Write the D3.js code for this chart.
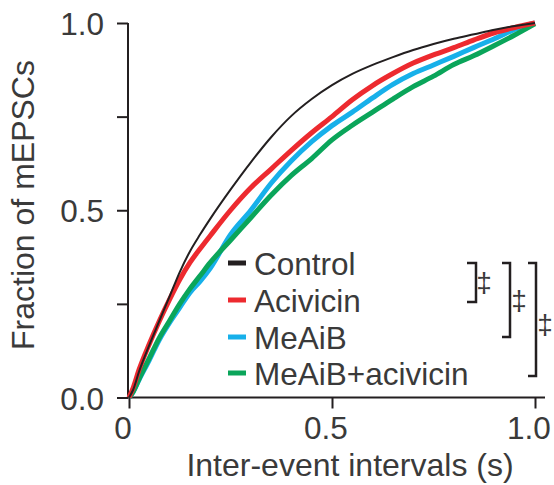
<!DOCTYPE html>
<html><head><meta charset="utf-8">
<script src="https://cdn.jsdelivr.net/npm/d3@7"></script>
<style>body{margin:0;background:#fff}svg{display:block}</style>
</head><body>
<script>
const xGrid = [0,0.01,0.025,0.05,0.075,0.1,0.125,0.15,0.175,0.2,0.25,0.3,0.35,0.4,0.45,0.5,0.55,0.6,0.65,0.7,0.75,0.8,0.85,0.9,0.95,1.0];
const control   = [0,0.02,0.07,0.14,0.205,0.27,0.335,0.39,0.435,0.477,0.555,0.628,0.695,0.752,0.797,0.834,0.864,0.888,0.909,0.928,0.944,0.958,0.970,0.982,0.992,1.0];
const acivicin  = [0,0.025,0.075,0.143,0.205,0.262,0.315,0.36,0.397,0.432,0.50,0.56,0.61,0.66,0.707,0.75,0.795,0.833,0.865,0.893,0.915,0.934,0.955,0.974,0.988,1.0];
const meaib     = [0,0.015,0.048,0.10,0.155,0.20,0.24,0.28,0.31,0.345,0.435,0.50,0.572,0.632,0.683,0.726,0.762,0.80,0.836,0.865,0.888,0.911,0.935,0.958,0.983,1.0];
const meaibAciv = [0,0.015,0.05,0.105,0.16,0.205,0.25,0.29,0.325,0.36,0.42,0.48,0.54,0.593,0.638,0.688,0.727,0.762,0.797,0.83,0.858,0.889,0.913,0.94,0.968,0.998];
const seriesNames = ["Control","Acivicin","MeAiB","MeAiB+acivicin"];
const seriesColors = ["#231f20","#ed2a2f","#17b0ea","#0aa55a"];
const seriesWidths = [2,5,5,5];
const xTicks = [0,0.5,1.0];
const xTickLabels = ["0","0.5","1.0"];
const yTicks = [0,0.25,0.5,0.75,1.0];
const yTickLabels = {"0":"0.0","0.5":"0.5","1":"1.0"};

const W=554,H=485;
const svg=d3.select("body").append("svg").attr("width",W).attr("height",H);
const x=d3.scaleLinear().domain([0,1]).range([129,535]);
const y=d3.scaleLinear().domain([0,1]).range([397.5,23]);
const font="'Liberation Sans', Arial, sans-serif";
const textCol="#3a3a3a", axCol="#231f20";

// axes
const yAxis=d3.axisLeft(y).tickValues(yTicks).tickSize(11).tickFormat("");
const gy=svg.append("g").attr("transform","translate(128,0)").call(yAxis);
gy.select(".domain").attr("d",`M0,${y(1)}H0V${y(0)}`);
gy.selectAll("path,line").attr("stroke",axCol).attr("stroke-width",2);
const xAxis=d3.axisBottom(x).tickValues(xTicks).tickSize(11).tickFormat("");
const gx=svg.append("g").attr("transform",`translate(0,${y(0)})`).call(xAxis);
gx.select(".domain").attr("d",`M127,0H545`);
gx.selectAll("path,line").attr("stroke",axCol).attr("stroke-width",2);

// tick labels
yTicks.forEach(t=>{ if(yTickLabels[String(t)]) svg.append("text").attr("x",104).attr("y",y(t)+12).attr("text-anchor","end")
  .attr("font-family",font).attr("font-size",31.5).attr("fill",textCol).text(yTickLabels[String(t)]);});
xTicks.forEach((t,i)=>svg.append("text").attr("x",x(t)-6).attr("y",439).attr("text-anchor","middle")
  .attr("font-family",font).attr("font-size",31.5).attr("fill",textCol).text(xTickLabels[i]));
svg.append("text").attr("x",350).attr("y",476).attr("text-anchor","middle").attr("font-family",font)
  .attr("font-size",32).attr("fill",textCol).text("Inter-event intervals (s)");
svg.append("text").attr("transform","translate(34,205) rotate(-90)").attr("text-anchor","middle").attr("font-family",font)
  .attr("font-size",32).attr("fill",textCol).text("Fraction of mEPSCs");

// lines
const allSeries=[control,acivicin,meaib,meaibAciv];
const line=d3.line().x((d,i)=>x(xGrid[i])).y(d=>y(d)).curve(d3.curveMonotoneX);
[2,3,1,0].forEach(k=>{
  svg.append("path").datum(allSeries[k]).attr("d",line).attr("fill","none")
    .attr("stroke",seriesColors[k]).attr("stroke-width",seriesWidths[k]).attr("stroke-linejoin","round");
});

// legend
const rowY=[263,300,337,373];
seriesNames.forEach((n,i)=>{
  svg.append("line").attr("x1",228).attr("x2",246).attr("y1",rowY[i]).attr("y2",rowY[i])
    .attr("stroke",seriesColors[i]).attr("stroke-width",5);
  svg.append("text").attr("x",254).attr("y",rowY[i]+11.5).attr("font-family",font).attr("font-size",31.5)
    .attr("fill",textCol).text(n);
});

// significance brackets
const brackets=[{x0:467,x1:476,y0:263,y1:302,sx:484,sy:282},{x0:502,x1:510,y0:263,y1:337,sx:519,sy:300},{x0:528,x1:536,y0:263,y1:376,sx:545,sy:324}];
brackets.forEach(b=>{
  svg.append("path").attr("d",`M${b.x0},${b.y0}H${b.x1}V${b.y1}H${b.x0}`).attr("fill","none").attr("stroke",axCol).attr("stroke-width",2.5);
  svg.append("text").attr("x",b.sx).attr("y",b.sy).attr("text-anchor","middle").attr("dominant-baseline","central")
    .attr("font-family",font).attr("font-size",28).attr("fill",textCol).text("‡");
});
</script>
</body></html>
